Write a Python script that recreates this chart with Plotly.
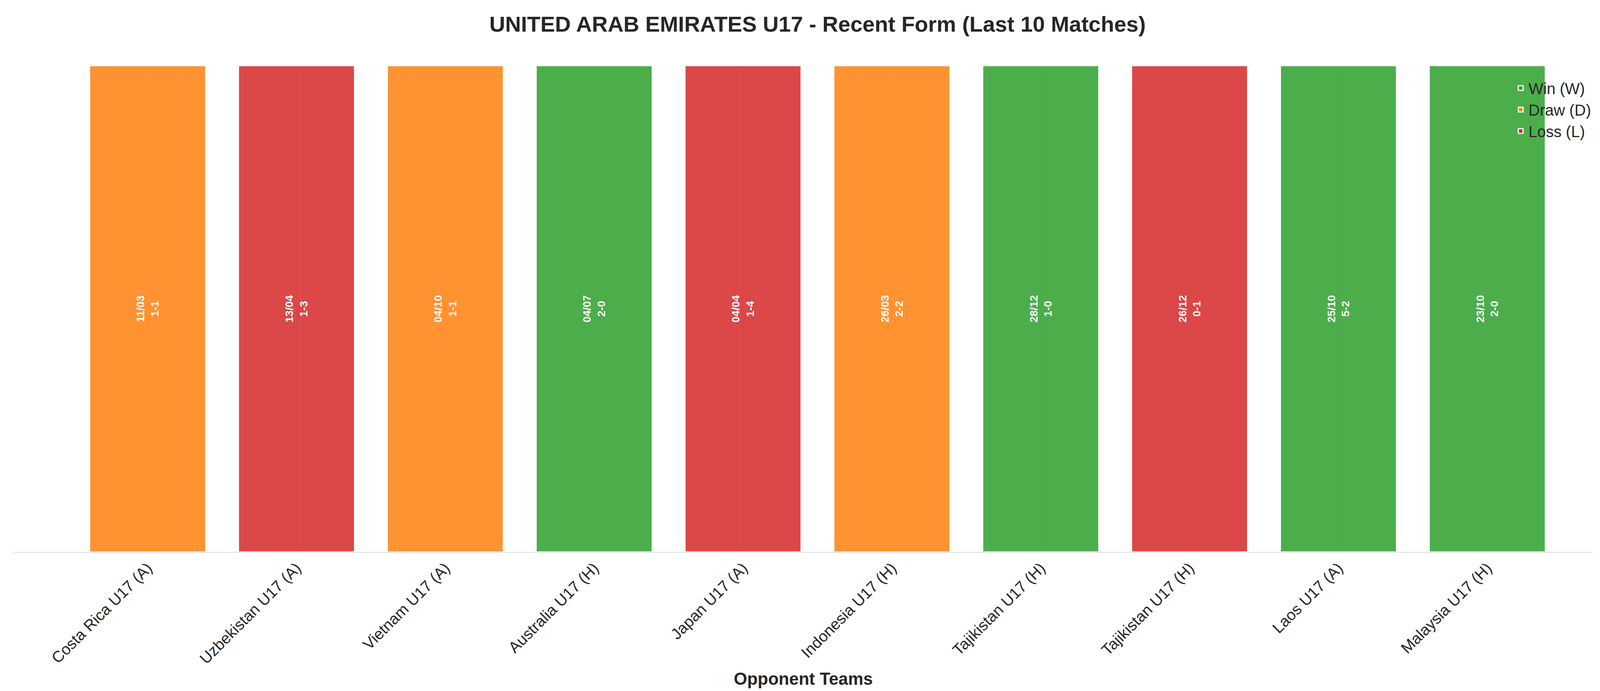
import plotly.graph_objects as go

# MATCH DATA
opponents = ["Costa Rica U17 (A)", "Uzbekistan U17 (A)", "Vietnam U17 (A)", "Australia U17 (H)",
             "Japan U17 (A)", "Indonesia U17 (H)", "Tajikistan U17 (H)", "Tajikistan U17 (H)",
             "Laos U17 (A)", "Malaysia U17 (H)"]
dates = ["11/03", "13/04", "04/10", "04/07", "04/04", "26/03", "28/12", "26/12", "25/10", "23/10"]
scores = ["1-1", "1-3", "1-1", "2-0", "1-4", "2-2", "1-0", "0-1", "5-2", "2-0"]
results = ["D", "L", "D", "W", "L", "D", "W", "L", "W", "W"]

colors = {"W": "#2ca02c", "D": "#ff7f0e", "L": "#d62728"}
names = {"W": "Win (W)", "D": "Draw (D)", "L": "Loss (L)"}

fig = go.Figure()
for r in ["W", "D", "L"]:
    idx = [i for i, x in enumerate(results) if x == r]
    fig.add_trace(go.Bar(
        x=idx, y=[1] * len(idx), name=names[r],
        marker=dict(color=colors[r], opacity=0.85, line=dict(color="white", width=3)),
        text=["<b>" + dates[i] + "<br>" + scores[i] + "</b>" for i in idx],
        textposition="inside", insidetextanchor="middle", textangle=-90,
        textfont=dict(color="white", size=28, family="Liberation Sans, Arial"),
        width=0.78,
    ))

fig.update_layout(
    width=4170, height=1769,
    paper_bgcolor="white", plot_bgcolor="white",
    font=dict(family="Liberation Sans, Arial", color="#262626"),
    title=dict(text="<b>UNITED ARAB EMIRATES U17 - Recent Form (Last 10 Matches)</b>",
               x=0.5, xanchor="center", y=0.97, yanchor="middle", font=dict(size=56)),
    margin=dict(l=27, r=100, t=160, b=364),
    legend=dict(x=1.0, y=0.98, xanchor="right", yanchor="top", font=dict(size=40),
                bgcolor="rgba(255,255,255,0)"),
    xaxis=dict(range=[-0.9, 9.71], tickvals=list(range(len(opponents))), ticktext=opponents,
               tickangle=-45, tickfont=dict(size=40), showgrid=True, gridcolor="rgba(200,200,200,0.5)",
               showline=True, linecolor="#dddddd", linewidth=2, zeroline=False,
               title=dict(text="<b>Opponent Teams</b>", font=dict(size=44))),
    yaxis=dict(range=[0, 1.0], visible=False),
)
fig.write_html("out.html")
